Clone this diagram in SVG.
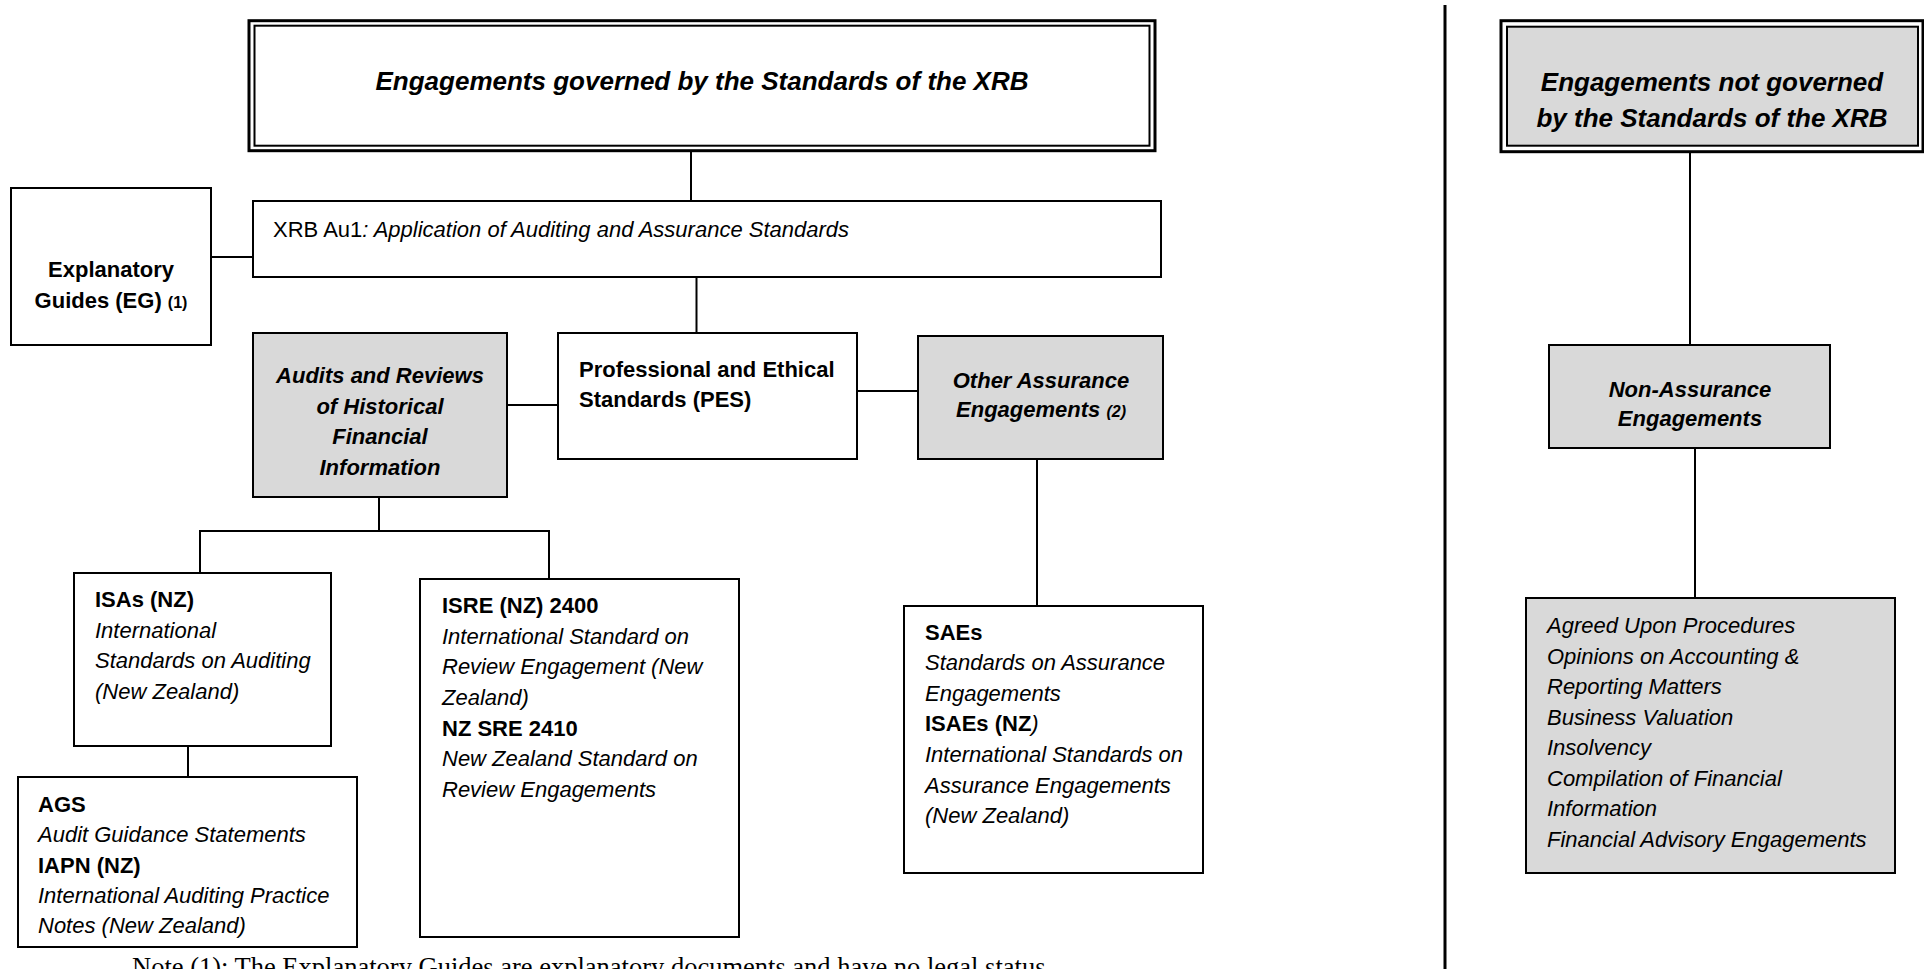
<svg xmlns="http://www.w3.org/2000/svg" width="1924" height="969" viewBox="0 0 1924 969">
<style>
.box{fill:#fff;stroke:#000;stroke-width:2}
.gbox{fill:#d9d9d9;stroke:#000;stroke-width:2}
.outer{fill:#fff;stroke:#000;stroke-width:3}
.inner{stroke:#000;stroke-width:2}
.t{font-family:"Liberation Sans",Arial,sans-serif;font-size:22px;fill:#000}
.ttl{font-family:"Liberation Sans",Arial,sans-serif;font-size:26px;font-weight:bold;font-style:italic;fill:#000}
.b{font-weight:bold}
.i{font-style:italic}
.bi{font-weight:bold;font-style:italic}
.mid{text-anchor:middle}
.sm{font-size:16px}
.con{stroke:#000;stroke-width:2;fill:none}
.note{font-family:"Liberation Serif","Times New Roman",serif;font-size:26.5px;fill:#000}
</style>
<rect width="1924" height="969" fill="#fff"/>
<g id="connectors">
<line class="con" x1="691" y1="151" x2="691" y2="201"/>
<line class="con" x1="696.5" y1="277" x2="696.5" y2="333"/>
<line class="con" x1="211" y1="257" x2="253" y2="257"/>
<line class="con" x1="507" y1="405" x2="558" y2="405"/>
<line class="con" x1="857" y1="391" x2="918" y2="391"/>
<line class="con" x1="1037" y1="459" x2="1037" y2="606"/>
<polyline class="con" points="379,497 379,531"/>
<polyline class="con" points="200,573 200,531 549,531 549,579"/>
<line class="con" x1="188" y1="746" x2="188" y2="777"/>
<line class="con" x1="1690" y1="152" x2="1690" y2="345"/>
<line class="con" x1="1695" y1="448" x2="1695" y2="598"/>
<line stroke="#000" stroke-width="3" x1="1445" y1="5" x2="1445" y2="969"/>
</g>
<g id="title-governed">
<rect class="outer" x="249" y="20.7" width="906" height="130"/>
<rect class="inner" fill="#fff" x="254.5" y="25.7" width="895" height="120"/>
<text class="ttl mid" x="702" y="90">Engagements governed by the Standards of the XRB</text>
</g>
<g id="xrb-au1">
<rect class="box" x="253" y="201" width="908" height="76"/>
<text class="t" x="273" y="237">XRB Au1<tspan class="i">: Application of Auditing and Assurance Standards</tspan></text>
</g>
<g id="explanatory-guides">
<rect class="box" x="11" y="188" width="200" height="157"/>
<text class="t b mid" x="111" y="277">Explanatory</text>
<text class="t b mid" x="111" y="308">Guides (EG) <tspan class="sm">(1)</tspan></text>
</g>
<g id="audits-reviews">
<rect class="gbox" x="253" y="333" width="254" height="164"/>
<text class="t bi mid" x="380" y="383">Audits and Reviews</text>
<text class="t bi mid" x="380" y="414">of Historical</text>
<text class="t bi mid" x="380" y="444">Financial</text>
<text class="t bi mid" x="380" y="475">Information</text>
</g>
<g id="pes">
<rect class="box" x="558" y="333" width="299" height="126"/>
<text class="t b" x="579" y="377">Professional and Ethical</text>
<text class="t b" x="579" y="407">Standards (PES)</text>
</g>
<g id="other-assurance">
<rect class="gbox" x="918" y="336" width="245" height="123"/>
<text class="t bi mid" x="1041" y="388">Other Assurance</text>
<text class="t bi mid" x="1041" y="417">Engagements <tspan class="sm">(2)</tspan></text>
</g>
<g id="isas">
<rect class="box" x="74" y="573" width="257" height="173"/>
<text class="t b" x="95" y="607">ISAs (NZ)</text>
<text class="t i" x="95" y="638">International</text>
<text class="t i" x="95" y="668">Standards on Auditing</text>
<text class="t i" x="95" y="699">(New Zealand)</text>
</g>
<g id="isre">
<rect class="box" x="420" y="579" width="319" height="358"/>
<text class="t b" x="442" y="613">ISRE (NZ) 2400</text>
<text class="t i" x="442" y="644">International Standard on</text>
<text class="t i" x="442" y="674">Review Engagement (New</text>
<text class="t i" x="442" y="705">Zealand)</text>
<text class="t b" x="442" y="736">NZ SRE 2410</text>
<text class="t i" x="442" y="766">New Zealand Standard on</text>
<text class="t i" x="442" y="797">Review Engagements</text>
</g>
<g id="ags">
<rect class="box" x="18" y="777" width="339" height="170"/>
<text class="t b" x="38" y="812">AGS</text>
<text class="t i" x="38" y="842">Audit Guidance Statements</text>
<text class="t b" x="38" y="873">IAPN (NZ)</text>
<text class="t i" x="38" y="903">International Auditing Practice</text>
<text class="t i" x="38" y="933">Notes  (New Zealand)</text>
</g>
<g id="saes">
<rect class="box" x="904" y="606" width="299" height="267"/>
<text class="t b" x="925" y="640">SAEs</text>
<text class="t i" x="925" y="670">Standards on Assurance</text>
<text class="t i" x="925" y="701">Engagements</text>
<text class="t b" x="925" y="731">ISAEs (NZ<tspan class="i" font-weight="normal">)</tspan></text>
<text class="t i" x="925" y="762">International Standards on</text>
<text class="t i" x="925" y="793">Assurance Engagements</text>
<text class="t i" x="925" y="823">(New Zealand)</text>
</g>
<g id="title-not-governed">
<rect class="outer" x="1501" y="20.7" width="422" height="131"/>
<rect class="inner" fill="#d9d9d9" x="1507" y="26.7" width="411" height="119"/>
<text class="ttl mid" x="1712" y="90.7">Engagements not governed</text>
<text class="ttl mid" x="1712" y="127.3">by the Standards of the XRB</text>
</g>
<g id="non-assurance">
<rect class="gbox" x="1549" y="345" width="281" height="103"/>
<text class="t bi mid" x="1690" y="397">Non-Assurance</text>
<text class="t bi mid" x="1690" y="426">Engagements</text>
</g>
<g id="non-assurance-list">
<rect class="gbox" x="1526" y="598" width="369" height="275"/>
<text class="t i" x="1547" y="633">Agreed Upon Procedures</text>
<text class="t i" x="1547" y="663.5">Opinions on Accounting &amp;</text>
<text class="t i" x="1547" y="694">Reporting Matters</text>
<text class="t i" x="1547" y="724.5">Business Valuation</text>
<text class="t i" x="1547" y="755">Insolvency</text>
<text class="t i" x="1547" y="785.5">Compilation of Financial</text>
<text class="t i" x="1547" y="816">Information</text>
<text class="t i" x="1547" y="846.5">Financial Advisory Engagements</text>
</g>
<g id="note">
<text class="note" x="132" y="975.5">Note (1): The Explanatory Guides are explanatory documents and have no legal status</text>
</g>
</svg>
